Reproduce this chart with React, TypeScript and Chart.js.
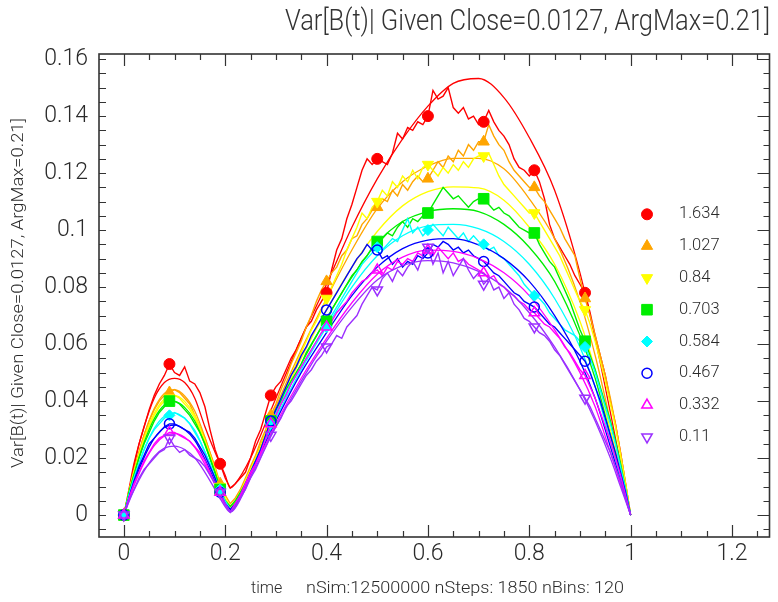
import React, { useEffect, useRef } from "react";
import { Chart, registerables } from "chart.js";
import { drawPoint } from "chart.js/helpers";

Chart.register(...registerables);

// ---------------- text ----------------
const TITLE = "Var[B(t)| Given Close=0.0127, ArgMax=0.21]";
const Y_LABEL = "Var[B(t)| Given Close=0.0127, ArgMax=0.21]";
const X_LABEL_LEFT = "time";
const X_LABEL_RIGHT = "nSim:12500000 nSteps: 1850 nBins: 120";

// ---------------- axes ----------------
const X_MIN = -0.049;
const X_MAX = 1.274;
const Y_MIN = -0.0077;
const Y_MAX = 0.1618;
const X_TICKS = [0, 0.2, 0.4, 0.6, 0.8, 1, 1.2];
const X_TICK_LABELS = ["0", "0.2", "0.4", "0.6", "0.8", "1", "1.2"];
const Y_TICKS = [0, 0.02, 0.04, 0.06, 0.08, 0.1, 0.12, 0.14, 0.16];
const Y_TICK_LABELS = ["0", "0.02", "0.04", "0.06", "0.08", "0.1", "0.12", "0.14", "0.16"];
const X_MINOR_STEP = 0.05;
const Y_MINOR_STEP = 0.005;

// ---------------- series ----------------
const SERIES_NAMES = ["1.634", "1.027", "0.84", "0.703", "0.584", "0.467", "0.332", "0.11"];
const COLORS = ["#ff0000", "#ffa500", "#ffff00", "#00ee00", "#00ffff", "#0000ff", "#ff00ff", "#9b30ff"];

// simulated (noisy) curves sampled at these times
const T_NOISY = [
  0, 0.01, 0.02, 0.03, 0.04, 0.05, 0.06, 0.07, 0.08, 0.09, 0.1,
  0.11, 0.12, 0.13, 0.14, 0.15, 0.16, 0.17, 0.18, 0.19, 0.2,
  0.21, 0.22, 0.23, 0.24, 0.25, 0.26, 0.27, 0.28, 0.29, 0.3,
  0.31, 0.32, 0.33, 0.34, 0.35, 0.36, 0.37, 0.38, 0.39, 0.4,
  0.41, 0.42, 0.43, 0.44, 0.45, 0.46, 0.47, 0.48, 0.49, 0.5,
  0.51, 0.52, 0.53, 0.54, 0.55, 0.56, 0.57, 0.58, 0.59, 0.6,
  0.61, 0.62, 0.63, 0.64, 0.65, 0.66, 0.67, 0.68, 0.69, 0.7,
  0.71, 0.72, 0.73, 0.74, 0.75, 0.76, 0.77, 0.78, 0.79, 0.8,
  0.81, 0.82, 0.83, 0.84, 0.85, 0.86, 0.87, 0.88, 0.89, 0.9,
  0.91, 0.92, 0.93, 0.94, 0.95, 0.96, 0.97, 0.98, 0.99, 1,
];

const RED_N = [
  0, 0.008, 0.017, 0.025, 0.031, 0.037, 0.042, 0.046, 0.049, 0.053, 0.05,
  0.049, 0.052, 0.047, 0.046, 0.043, 0.038, 0.03, 0.023, 0.018, 0.013,
  0.0095, 0.011, 0.013, 0.015, 0.02, 0.026, 0.03, 0.036, 0.042, 0.045,
  0.047, 0.051, 0.055, 0.058, 0.062, 0.066, 0.068, 0.072, 0.075, 0.078,
  0.086, 0.093, 0.097, 0.104, 0.109, 0.115, 0.121, 0.125, 0.123, 0.125,
  0.124, 0.123, 0.127, 0.134, 0.132, 0.136, 0.135, 0.138, 0.137, 0.14,
  0.149, 0.146, 0.147, 0.15, 0.143, 0.141, 0.143, 0.139, 0.14, 0.137,
  0.138, 0.142, 0.138, 0.135, 0.133, 0.13, 0.125, 0.122, 0.121, 0.119,
  0.121, 0.117, 0.111, 0.102, 0.097, 0.094, 0.091, 0.088, 0.084, 0.081,
  0.078, 0.071, 0.063, 0.056, 0.049, 0.04, 0.032, 0.022, 0.011, 0,
];
const ORANGE_N = [
  0, 0.008, 0.015, 0.022, 0.028, 0.033, 0.037, 0.04, 0.042, 0.043, 0.044,
  0.043, 0.041, 0.039, 0.035, 0.031, 0.027, 0.022, 0.017, 0.011, 0.007,
  0.004, 0.006, 0.009, 0.013, 0.017, 0.021, 0.026, 0.03, 0.035, 0.039,
  0.044, 0.048, 0.053, 0.057, 0.061, 0.066, 0.07, 0.075, 0.079, 0.082,
  0.085, 0.087, 0.091, 0.093, 0.097, 0.098, 0.102, 0.104, 0.107, 0.108,
  0.111, 0.11, 0.114, 0.112, 0.116, 0.114, 0.117, 0.119, 0.117, 0.118,
  0.121, 0.124, 0.122, 0.126, 0.124, 0.128, 0.126, 0.13, 0.128, 0.131,
  0.131, 0.137, 0.133, 0.13, 0.128, 0.124, 0.121, 0.119, 0.117, 0.115,
  0.115, 0.112, 0.11, 0.107, 0.104, 0.101, 0.097, 0.094, 0.091, 0.083,
  0.076, 0.07, 0.063, 0.056, 0.049, 0.041, 0.032, 0.022, 0.011, 0,
];
const YELLOW_N = [
  0, 0.008, 0.015, 0.021, 0.027, 0.031, 0.035, 0.038, 0.04, 0.041, 0.042,
  0.041, 0.039, 0.037, 0.034, 0.03, 0.026, 0.021, 0.016, 0.01, 0.006,
  0.003, 0.005, 0.008, 0.012, 0.016, 0.02, 0.024, 0.029, 0.033, 0.037,
  0.041, 0.045, 0.049, 0.053, 0.057, 0.061, 0.065, 0.068, 0.072, 0.076,
  0.08, 0.084, 0.088, 0.093, 0.097, 0.101, 0.106, 0.104, 0.108, 0.11,
  0.114, 0.112, 0.117, 0.115, 0.119, 0.117, 0.121, 0.118, 0.122, 0.123,
  0.121, 0.119, 0.122, 0.12, 0.123, 0.121, 0.124, 0.122, 0.125, 0.126,
  0.126, 0.127, 0.123, 0.119, 0.116, 0.114, 0.112, 0.11, 0.108, 0.106,
  0.106, 0.103, 0.1, 0.097, 0.094, 0.091, 0.087, 0.083, 0.079, 0.075,
  0.072, 0.067, 0.061, 0.054, 0.047, 0.039, 0.031, 0.021, 0.011, 0,
];
const GREEN_N = [
  0, 0.008, 0.014, 0.02, 0.025, 0.029, 0.033, 0.036, 0.038, 0.04, 0.04,
  0.039, 0.037, 0.035, 0.032, 0.029, 0.025, 0.02, 0.015, 0.009, 0.005,
  0.003, 0.005, 0.008, 0.011, 0.015, 0.019, 0.023, 0.028, 0.033, 0.037,
  0.04, 0.044, 0.047, 0.05, 0.053, 0.057, 0.06, 0.063, 0.066, 0.068,
  0.072, 0.075, 0.078, 0.081, 0.084, 0.086, 0.089, 0.091, 0.094, 0.096,
  0.097, 0.099, 0.098, 0.101, 0.103, 0.101, 0.104, 0.103, 0.105, 0.106,
  0.109, 0.112, 0.115, 0.113, 0.111, 0.112, 0.11, 0.108, 0.11, 0.111,
  0.111, 0.109, 0.107, 0.108, 0.106, 0.105, 0.103, 0.101, 0.1, 0.099,
  0.099, 0.095, 0.092, 0.089, 0.087, 0.083, 0.079, 0.075, 0.07, 0.065,
  0.061, 0.056, 0.051, 0.045, 0.039, 0.033, 0.026, 0.018, 0.009, 0,
];
const CYAN_N = [
  0, 0.007, 0.013, 0.018, 0.023, 0.027, 0.03, 0.032, 0.034, 0.035, 0.036,
  0.035, 0.034, 0.032, 0.029, 0.026, 0.022, 0.018, 0.013, 0.009, 0.005,
  0.002, 0.004, 0.007, 0.011, 0.015, 0.019, 0.023, 0.027, 0.032, 0.036,
  0.039, 0.043, 0.046, 0.049, 0.052, 0.055, 0.058, 0.061, 0.064, 0.066,
  0.07, 0.073, 0.076, 0.079, 0.082, 0.085, 0.088, 0.09, 0.092, 0.094,
  0.093, 0.095, 0.097, 0.096, 0.1, 0.104, 0.099, 0.101, 0.098, 0.1,
  0.102, 0.1, 0.098, 0.101, 0.099, 0.097, 0.099, 0.096, 0.098, 0.096,
  0.095, 0.093, 0.094, 0.091, 0.09, 0.088, 0.086, 0.084, 0.081, 0.079,
  0.077, 0.076, 0.074, 0.071, 0.069, 0.067, 0.065, 0.064, 0.063, 0.061,
  0.059, 0.055, 0.05, 0.044, 0.038, 0.032, 0.025, 0.017, 0.009, 0,
];
const BLUE_N = [
  0, 0.006, 0.012, 0.017, 0.021, 0.025, 0.027, 0.029, 0.031, 0.032, 0.032,
  0.031, 0.03, 0.029, 0.027, 0.024, 0.021, 0.017, 0.013, 0.008, 0.004,
  0.002, 0.004, 0.007, 0.011, 0.015, 0.019, 0.023, 0.028, 0.033, 0.037,
  0.041, 0.045, 0.049, 0.052, 0.056, 0.059, 0.063, 0.066, 0.069, 0.072,
  0.075, 0.078, 0.081, 0.084, 0.087, 0.09, 0.092, 0.095, 0.093, 0.093,
  0.09, 0.091, 0.088, 0.09, 0.087, 0.089, 0.088, 0.091, 0.09, 0.092,
  0.095, 0.094, 0.096, 0.095, 0.093, 0.094, 0.092, 0.093, 0.091, 0.09,
  0.089, 0.087, 0.085, 0.084, 0.082, 0.08, 0.078, 0.077, 0.075, 0.074,
  0.073, 0.071, 0.069, 0.067, 0.066, 0.064, 0.062, 0.06, 0.058, 0.056,
  0.054, 0.05, 0.045, 0.04, 0.034, 0.028, 0.022, 0.015, 0.008, 0,
];
const MAGENTA_N = [
  0, 0.006, 0.011, 0.015, 0.019, 0.022, 0.025, 0.027, 0.028, 0.029, 0.029,
  0.028, 0.027, 0.026, 0.024, 0.022, 0.019, 0.015, 0.011, 0.008, 0.004,
  0.001, 0.004, 0.007, 0.011, 0.015, 0.018, 0.022, 0.027, 0.032, 0.035,
  0.039, 0.042, 0.046, 0.049, 0.052, 0.055, 0.058, 0.061, 0.064, 0.066,
  0.068, 0.071, 0.073, 0.075, 0.078, 0.08, 0.082, 0.083, 0.085, 0.086,
  0.084, 0.087, 0.086, 0.089, 0.088, 0.09, 0.089, 0.092, 0.091, 0.093,
  0.091, 0.094, 0.092, 0.09, 0.092, 0.089, 0.09, 0.088, 0.087, 0.086,
  0.085, 0.083, 0.084, 0.081, 0.08, 0.078, 0.077, 0.075, 0.074, 0.072,
  0.071, 0.069, 0.067, 0.066, 0.064, 0.062, 0.059, 0.057, 0.054, 0.051,
  0.049, 0.045, 0.041, 0.036, 0.031, 0.026, 0.02, 0.014, 0.007, 0,
];
const PURPLE_N = [
  0, 0.005, 0.009, 0.013, 0.016, 0.018, 0.02, 0.022, 0.023, 0.027, 0.024,
  0.022, 0.023, 0.021, 0.02, 0.019, 0.017, 0.014, 0.011, 0.008, 0.004,
  0.001, 0.003, 0.006, 0.009, 0.013, 0.016, 0.02, 0.024, 0.028, 0.031,
  0.034, 0.038, 0.04, 0.043, 0.046, 0.049, 0.051, 0.054, 0.056, 0.059,
  0.06, 0.063, 0.062, 0.066, 0.068, 0.07, 0.074, 0.077, 0.08, 0.079,
  0.083, 0.085, 0.082, 0.086, 0.084, 0.087, 0.089, 0.086, 0.091, 0.094,
  0.088, 0.092, 0.085, 0.089, 0.084, 0.087, 0.09, 0.086, 0.083, 0.085,
  0.081, 0.083, 0.079, 0.08, 0.076, 0.078, 0.074, 0.072, 0.069, 0.068,
  0.066, 0.064, 0.063, 0.061, 0.058, 0.056, 0.053, 0.05, 0.047, 0.044,
  0.041, 0.038, 0.034, 0.03, 0.026, 0.022, 0.017, 0.012, 0.006, 0,
];

// theoretical (smooth) curves sampled at these times
const T_SMOOTH = [
  0, 0.01, 0.02, 0.04, 0.06, 0.08, 0.1, 0.12, 0.14, 0.16, 0.18, 0.2, 0.21, 0.22, 0.25, 0.3,
  0.35, 0.4, 0.45, 0.5, 0.55, 0.6, 0.65, 0.7, 0.75, 0.8, 0.85, 0.9, 0.93, 0.96, 0.98, 1,
];
const RED_S = [
  0, 0.009, 0.018, 0.031, 0.041, 0.0465, 0.048, 0.0465, 0.041, 0.031, 0.022, 0.014, 0.0095, 0.011, 0.02, 0.041,
  0.062, 0.081, 0.101, 0.118, 0.132, 0.1435, 0.1515, 0.1532, 0.1465, 0.1325, 0.114, 0.085, 0.062, 0.036, 0.018, 0,
];
const ORANGE_S = [
  0, 0.0084, 0.0158, 0.0282, 0.0374, 0.0427, 0.044, 0.0418, 0.0365, 0.0273, 0.0163, 0.0055, 0.003, 0.0045, 0.016, 0.038,
  0.058, 0.076, 0.093, 0.1075, 0.117, 0.1225, 0.1252, 0.1252, 0.1215, 0.111, 0.097, 0.075, 0.056, 0.033, 0.017, 0,
];
const YELLOW_S = [
  0, 0.008, 0.0151, 0.0269, 0.0357, 0.0407, 0.042, 0.0399, 0.0349, 0.026, 0.0155, 0.005, 0.0025, 0.004, 0.015, 0.036,
  0.055, 0.072, 0.087, 0.0995, 0.1085, 0.1135, 0.1152, 0.1148, 0.1105, 0.101, 0.088, 0.068, 0.051, 0.03, 0.015, 0,
];
const GREEN_S = [
  0, 0.0076, 0.0143, 0.0255, 0.0338, 0.0386, 0.0398, 0.0378, 0.033, 0.0247, 0.0147, 0.0048, 0.002, 0.0035, 0.014, 0.035,
  0.053, 0.069, 0.0835, 0.0955, 0.103, 0.1065, 0.1075, 0.1065, 0.102, 0.094, 0.082, 0.063, 0.048, 0.028, 0.014, 0,
];
const CYAN_S = [
  0, 0.0068, 0.0129, 0.0229, 0.0304, 0.0347, 0.0358, 0.034, 0.0297, 0.0222, 0.0132, 0.0043, 0.0018, 0.0033, 0.014, 0.034,
  0.051, 0.066, 0.08, 0.091, 0.098, 0.1015, 0.102, 0.1005, 0.096, 0.088, 0.076, 0.059, 0.045, 0.026, 0.013, 0,
];
const BLUE_S = [
  0, 0.006, 0.0114, 0.0202, 0.0269, 0.0307, 0.0316, 0.03, 0.0262, 0.0196, 0.0117, 0.0038, 0.0015, 0.003, 0.014, 0.033,
  0.05, 0.064, 0.077, 0.087, 0.0935, 0.0965, 0.097, 0.0948, 0.09, 0.082, 0.07, 0.054, 0.041, 0.024, 0.012, 0,
];
const MAGENTA_S = [
  0, 0.0055, 0.0103, 0.0184, 0.0244, 0.0278, 0.0287, 0.0273, 0.0238, 0.0178, 0.0106, 0.0034, 0.0012, 0.0028, 0.014, 0.032,
  0.048, 0.062, 0.0745, 0.0845, 0.0905, 0.093, 0.0925, 0.09, 0.085, 0.077, 0.065, 0.05, 0.038, 0.022, 0.011, 0,
];
const PURPLE_S = [
  0, 0.0046, 0.0087, 0.0155, 0.0206, 0.0235, 0.0242, 0.023, 0.0201, 0.015, 0.009, 0.0029, 0.001, 0.0025, 0.013, 0.031,
  0.047, 0.061, 0.073, 0.0825, 0.0875, 0.0893, 0.0885, 0.0855, 0.08, 0.071, 0.059, 0.044, 0.033, 0.02, 0.01, 0,
];

// markers sit on the simulated curve at these times
const MARKER_T = [0, 0.09, 0.19, 0.29, 0.4, 0.5, 0.6, 0.71, 0.81, 0.91];

const NOISY = [RED_N, ORANGE_N, YELLOW_N, GREEN_N, CYAN_N, BLUE_N, MAGENTA_N, PURPLE_N];
const SMOOTH = [RED_S, ORANGE_S, YELLOW_S, GREEN_S, CYAN_S, BLUE_S, MAGENTA_S, PURPLE_S];

type MarkerStyle = { pointStyle: string; radius: number; rotation: number; filled: boolean };
const MARKERS: MarkerStyle[] = [
  { pointStyle: "circle", radius: 5.5, rotation: 0, filled: true },
  { pointStyle: "triangle", radius: 6.5, rotation: 0, filled: true },
  { pointStyle: "triangle", radius: 6.5, rotation: 180, filled: true },
  { pointStyle: "rect", radius: 7.5, rotation: 0, filled: true },
  { pointStyle: "rectRot", radius: 5.5, rotation: 0, filled: true },
  { pointStyle: "circle", radius: 5, rotation: 0, filled: false },
  { pointStyle: "triangle", radius: 6, rotation: 0, filled: false },
  { pointStyle: "triangle", radius: 6, rotation: 180, filled: false },
];

const FONT_FAMILY = "Roboto, 'Liberation Sans', Arial, sans-serif";
const TEXT_COLOR = "#2a2a2a";
const FRAME_COLOR = "#333333";

function drawFitted(
  ctx: CanvasRenderingContext2D,
  text: string,
  x: number,
  y: number,
  font: string,
  targetWidth: number,
  align: CanvasTextAlign
) {
  ctx.save();
  ctx.font = font;
  const w = ctx.measureText(text).width;
  const sx = w > 0 ? targetWidth / w : 1;
  ctx.translate(x, y);
  ctx.scale(sx, 1);
  ctx.textAlign = align;
  ctx.textBaseline = "middle";
  ctx.fillText(text, 0, 0);
  ctx.restore();
}

const decorPlugin = {
  id: "decor",
  afterDraw(chart: any) {
    const ctx: CanvasRenderingContext2D = chart.ctx;
    const { left, right, top, bottom } = chart.chartArea;
    const xs = chart.scales.x;
    const ys = chart.scales.y;
    ctx.save();

    // inward tick marks
    ctx.strokeStyle = FRAME_COLOR;
    ctx.lineWidth = 1.2;
    ctx.beginPath();
    for (let k = -2; k <= 30; k++) {
      const px = Math.round(xs.getPixelForValue(k * X_MINOR_STEP)) + 0.5;
      if (px <= left + 1 || px >= right - 1) continue;
      const len = k % 4 === 0 ? 12 : 6;
      ctx.moveTo(px, bottom);
      ctx.lineTo(px, bottom - len);
      ctx.moveTo(px, top);
      ctx.lineTo(px, top + len);
    }
    for (let k = -3; k <= 34; k++) {
      const py = Math.round(ys.getPixelForValue(k * Y_MINOR_STEP)) + 0.5;
      if (py <= top + 1 || py >= bottom - 1) continue;
      const major = k % 4 === 0;
      ctx.moveTo(left, py);
      ctx.lineTo(left + 7, py);
      ctx.moveTo(right, py);
      ctx.lineTo(right - (major ? 12 : 6), py);
    }
    ctx.stroke();

    // frame
    ctx.lineWidth = 1.6;
    ctx.strokeRect(left, top, right - left, bottom - top);

    // title
    ctx.fillStyle = "#333333";
    drawFitted(ctx, TITLE, 285, 23, `300 29px ${FONT_FAMILY}`, 485, "left");

    // y-axis title
    ctx.save();
    ctx.translate(19, 293);
    ctx.rotate(-Math.PI / 2);
    ctx.fillStyle = TEXT_COLOR;
    drawFitted(ctx, Y_LABEL, 0, 0, `300 17px ${FONT_FAMILY}`, 350, "center");
    ctx.restore();

    // x-axis title
    ctx.fillStyle = TEXT_COLOR;
    ctx.font = `300 16px ${FONT_FAMILY}`;
    ctx.textAlign = "left";
    ctx.textBaseline = "middle";
    ctx.fillText(X_LABEL_LEFT, 251, 589);
    drawFitted(ctx, X_LABEL_RIGHT, 306, 589, `300 16px ${FONT_FAMILY}`, 318, "left");

    // legend
    const legendX = 647;
    const legendTextX = 679;
    const legendY0 = 214.3;
    const legendDY = 31.8;
    SERIES_NAMES.forEach((name, i) => {
      const m = MARKERS[i];
      const yy = legendY0 + i * legendDY;
      ctx.save();
      ctx.fillStyle = m.filled ? COLORS[i] : "rgba(0,0,0,0)";
      ctx.strokeStyle = COLORS[i];
      ctx.lineWidth = m.filled ? 1 : 1.5;
      drawPoint(ctx, { pointStyle: m.pointStyle as any, radius: m.radius, rotation: m.rotation, borderWidth: ctx.lineWidth } as any, legendX, yy);
      ctx.restore();
      ctx.fillStyle = TEXT_COLOR;
      ctx.font = `300 16.5px ${FONT_FAMILY}`;
      ctx.textAlign = "left";
      ctx.textBaseline = "middle";
      ctx.fillText(name, legendTextX, yy);
    });

    ctx.restore();
  },
};

export default function App() {
  const ref = useRef<HTMLCanvasElement>(null);

  useEffect(() => {
    if (!ref.current) return;
    const datasets: any[] = [];
    SERIES_NAMES.forEach((name, i) => {
      const noisy = NOISY[i];
      const smooth = SMOOTH[i];
      datasets.push({
        label: name + " sim",
        data: T_NOISY.map((t, j) => ({ x: t, y: noisy[j] })),
        borderColor: COLORS[i],
        borderWidth: 1.4,
        pointRadius: 0,
        tension: 0,
        fill: false,
        order: 100 - i * 2,
      });
      datasets.push({
        label: name + " theory",
        data: T_SMOOTH.map((t, j) => ({ x: t, y: smooth[j] })),
        borderColor: COLORS[i],
        borderWidth: 1.3,
        pointRadius: 0,
        cubicInterpolationMode: "monotone",
        fill: false,
        order: 99 - i * 2,
      });
      const m = MARKERS[i];
      datasets.push({
        label: name,
        data: MARKER_T.map((t) => ({ x: t, y: noisy[T_NOISY.indexOf(t)] })),
        showLine: false,
        pointStyle: m.pointStyle,
        pointRadius: m.radius,
        pointHoverRadius: m.radius,
        pointRotation: m.rotation,
        pointBackgroundColor: m.filled ? COLORS[i] : "rgba(0,0,0,0)",
        pointBorderColor: COLORS[i],
        pointBorderWidth: m.filled ? 1 : 1.5,
        borderColor: COLORS[i],
        backgroundColor: COLORS[i],
        order: 50 - i,
      });
    });

    const chart = new Chart(ref.current, {
      type: "line",
      data: { datasets },
      options: {
        animation: false,
        responsive: false,
        events: [],
        layout: { padding: { left: 0, right: 8, top: 54, bottom: 0 } },
        plugins: {
          legend: { display: false },
          tooltip: { enabled: false },
          title: { display: false },
        },
        scales: {
          x: {
            type: "linear",
            min: X_MIN,
            max: X_MAX,
            grid: { display: false, drawTicks: false },
            border: { display: false },
            afterBuildTicks: (scale: any) => {
              scale.ticks = X_TICKS.map((v) => ({ value: v }));
            },
            afterFit: (scale: any) => {
              scale.height = 65;
            },
            ticks: {
              autoSkip: false,
              maxRotation: 0,
              padding: 3,
              color: TEXT_COLOR,
              font: { family: FONT_FAMILY, size: 23, weight: "300" },
              callback: (_v: any, idx: number) => X_TICK_LABELS[idx],
            },
          },
          y: {
            type: "linear",
            min: Y_MIN,
            max: Y_MAX,
            grid: { display: false, drawTicks: false },
            border: { display: false },
            afterBuildTicks: (scale: any) => {
              scale.ticks = Y_TICKS.map((v) => ({ value: v }));
            },
            afterFit: (scale: any) => {
              scale.width = 99;
            },
            ticks: {
              autoSkip: false,
              padding: 11,
              color: TEXT_COLOR,
              font: { family: FONT_FAMILY, size: 23, weight: "300" },
              callback: (_v: any, idx: number) => Y_TICK_LABELS[idx],
            },
          },
        },
      },
      plugins: [decorPlugin],
    } as any);

    return () => chart.destroy();
  }, []);

  return (
    <div style={{ position: "fixed", left: 0, top: 0, width: 778, height: 602, background: "#ffffff" }}>
      <canvas ref={ref} width={778} height={602} style={{ display: "block" }} />
    </div>
  );
}
